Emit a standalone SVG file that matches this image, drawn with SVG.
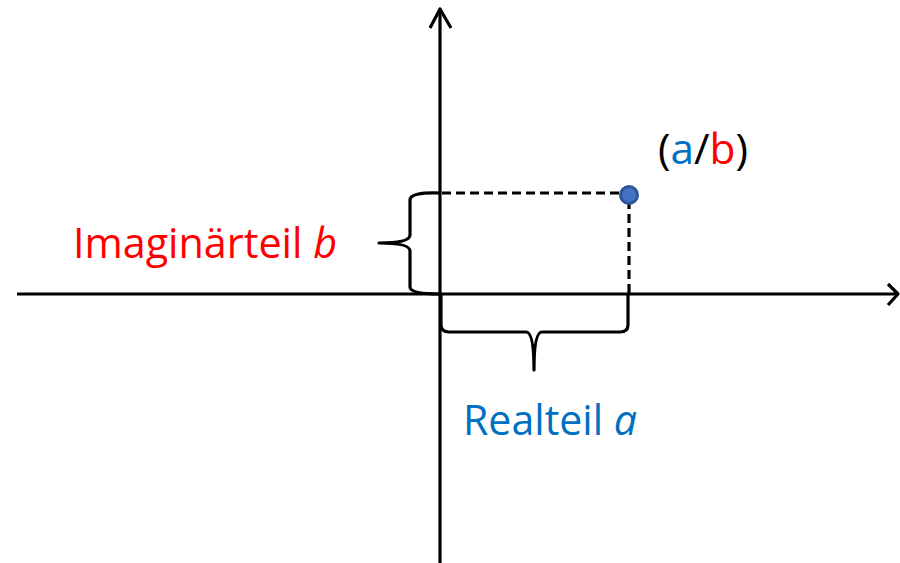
<svg xmlns="http://www.w3.org/2000/svg" width="900" height="563" viewBox="0 0 900 563">
<style>
.ln{fill:none;stroke:#000;stroke-width:3.2;stroke-linejoin:round}
.dash{fill:none;stroke:#000;stroke-width:3.2;stroke-dasharray:9 5}
.t{font-family:"Open Sans","Liberation Sans",sans-serif;font-size:42px}
.red{fill:#FF0000}
.blue{fill:#0070C0}
</style>
<rect width="900" height="563" fill="#fff"/>
<g id="connectors">
<g id="axes">
<line class="ln" x1="17" y1="294" x2="897" y2="294"/>
<polyline class="ln" points="888,284 898,294 888,305"/>
<line class="ln" x1="440" y1="563" x2="440" y2="10"/>
<polyline class="ln" points="430,28 440,9 451,28"/>
</g>
<g id="dashed">
<line class="dash" x1="442" y1="193" x2="622" y2="193"/>
<line class="dash" x1="629" y1="200" x2="629" y2="294"/>
</g>
<g id="braces">
<path class="ln" d="M440,193 Q410,192 410,200 L410,235 Q410,243 379,243 Q410,243 410,251 L410,287 Q410,294 440,294"/>
<path class="ln" d="M441,294 L441,325 Q441,332 449,332 L526,332 Q534,332 534,370 Q534,332 542,332 L620,332 Q628,332 628,325 L628,294"/>
</g>
</g>
<g id="point">
<circle cx="629" cy="195" r="8.5" fill="#4472C4" stroke="#2F5597" stroke-width="3"/>
</g>
<g id="label-point">
<text class="t" x="658" y="164" textLength="90" lengthAdjust="spacingAndGlyphs">(<tspan class="blue">a</tspan>/<tspan class="red">b</tspan>)</text>
</g>
<g id="label-imag">
<text class="t red" x="73" y="258" textLength="264" lengthAdjust="spacingAndGlyphs">Imaginärteil <tspan font-style="italic">b</tspan></text>
</g>
<g id="label-real">
<text class="t blue" x="463" y="435" textLength="174" lengthAdjust="spacingAndGlyphs">Realteil <tspan font-style="italic">a</tspan></text>
</g>
</svg>
